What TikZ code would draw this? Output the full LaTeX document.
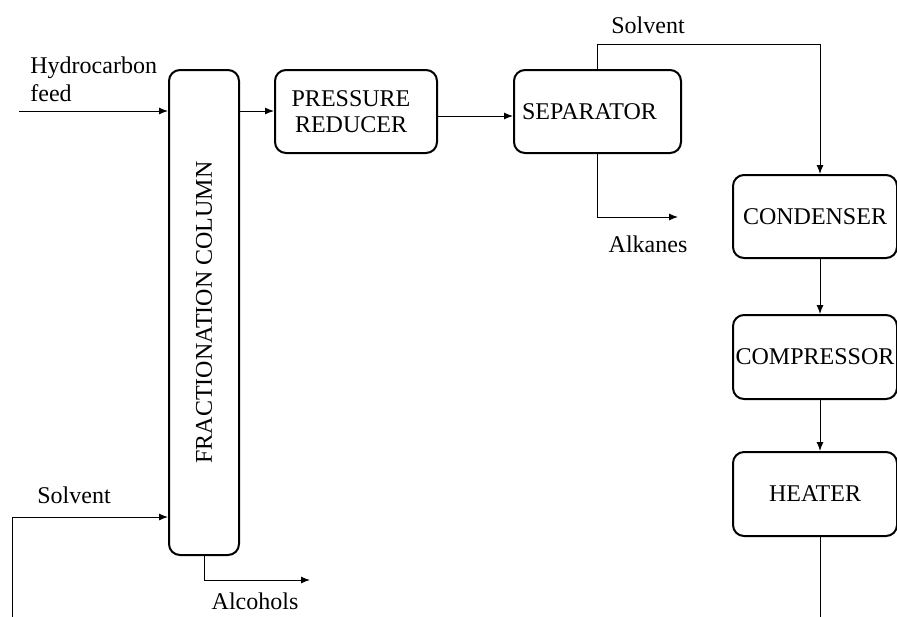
\documentclass[tikz,border=0pt]{standalone}
\usepackage{fontspec}
\setmainfont{Liberation Serif}
\usetikzlibrary{arrows.meta}

\begin{document}
\begin{tikzpicture}[x=0.5pt,y=-0.5pt,
  unit/.style={draw, line width=1pt, rounded corners=5.5pt, inner sep=0pt,
               align=center, font=\fontsize{12}{13}\selectfont},
  flow/.style={line width=0.5pt, -{Latex[length=4.5pt,width=3.5pt]}},
  tag/.style={inner sep=0pt, align=left, font=\fontsize{12}{14}\selectfont}]
\useasboundingbox (0,0) rectangle (897,616);
\clip (0,0) rectangle (897,616);

% process units
\node[unit, minimum width=35pt, minimum height=242.5pt] (col) at (204,312.5)
  {\rotatebox{90}{FRACTIONATION COLUMN}};
\node[unit, minimum width=81pt, minimum height=41.5pt] (pr) at (356,111.5)
  {PRESSURE\hspace*{5pt}\\REDUCER\hspace*{5pt}};
\node[unit, minimum width=83.5pt, minimum height=41.5pt] (sep) at (597.5,111.5)
  {SEPARATOR\hspace*{8pt}};
\node[unit, minimum width=82pt, minimum height=41.5pt] (cond) at (815,216.5)
  {CONDENSER};
\node[unit, minimum width=82pt, minimum height=42pt] (comp) at (815,357)
  {COMPRESSOR};
\node[unit, minimum width=82pt, minimum height=42pt] (heat) at (815,494)
  {HEATER};

% stream labels
\node[tag, anchor=west] (feedlbl) at (30,79) {Hydrocarbon\\feed};
\node[tag] (solvtop) at (648,25) {Solvent};
\node[tag] (alklbl) at (648,244) {Alkanes};
\node[tag] (solvleft) at (74,495) {Solvent};
\node[tag] (alclbl) at (255,601) {Alcohols};

% free ends of the streams
\coordinate (feedin) at (19,111);
\coordinate (alkout) at (678,217);
\coordinate (alcout) at (310,580);
\coordinate (retup) at (12,517);
\coordinate (retlow) at (12,660);

% streams
\draw[flow] (feedin) -- (feedin -| col.west);
\draw[flow] (col.east |- feedin) -- (pr.west |- feedin);
\draw[flow] ([yshift=-2.25pt]pr.east) -- ([yshift=-2.25pt]sep.west);
\draw[flow] (sep.north) -- ++(0,-25) -| ([xshift=2.5pt]cond.north);
\draw[flow] (sep.south) |- (alkout);
\draw[flow] ([xshift=2.5pt]cond.south) -- ([xshift=2.5pt]comp.north);
\draw[flow] ([xshift=2.5pt]comp.south) -- ([xshift=2.5pt]heat.north);
\draw[flow] ([xshift=2.5pt]heat.south) |- (retlow) -- (retup) -- (retup -| col.west);
\draw[flow] (col.south) |- (alcout);
\end{tikzpicture}
\end{document}
